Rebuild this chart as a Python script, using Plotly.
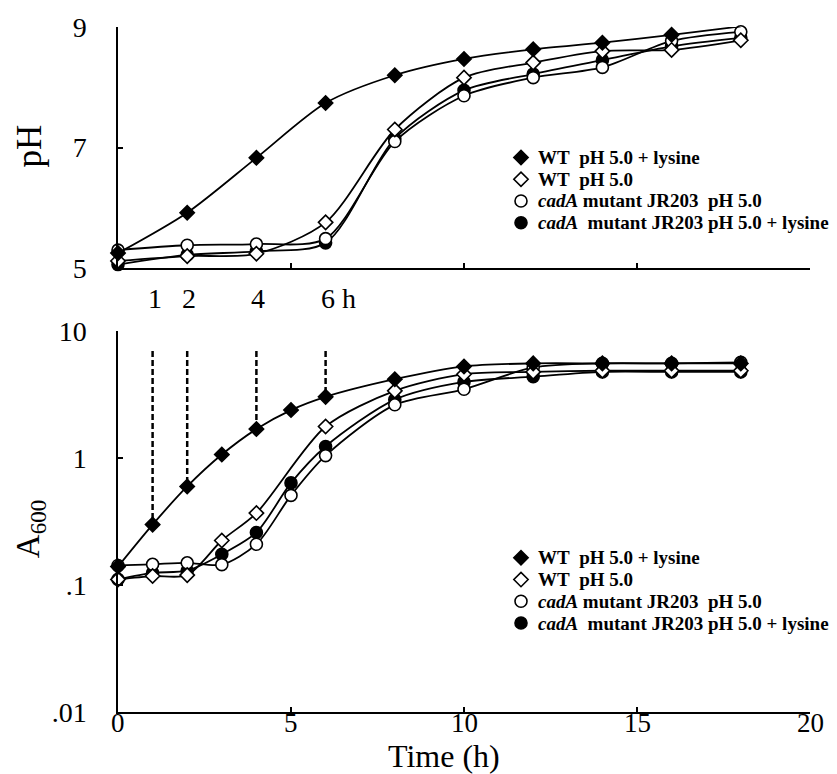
import plotly.graph_objects as go

# ---------------- data ----------------
series_names = [
    "WT\u00a0\u00a0pH 5.0 + lysine",
    "WT\u00a0\u00a0pH 5.0",
    "<i>cadA</i> mutant JR203\u00a0\u00a0pH 5.0",
    "<i>cadA</i>\u00a0\u00a0mutant JR203 pH 5.0 + lysine",
]

# top panel: pH
t_ph = [0, 2, 4, 6, 8, 10, 12, 14, 16, 18]
ph_wt_lys = [5.25, 5.92, 6.83, 7.74, 8.2, 8.47, 8.63, 8.74, 8.87, 9.01]
ph_wt = [5.12, 5.2, 5.24, 5.76, 7.3, 8.16, 8.41, 8.6, 8.62, 8.78]
ph_cad = [5.3, 5.38, 5.4, 5.49, 7.1, 7.86, 8.16, 8.33, 8.77, 8.92]
ph_cad_lys = [5.06, 5.22, 5.28, 5.42, 7.15, 7.95, 8.22, 8.45, 8.68, 8.82]

# bottom panel: A600
t_a = [0, 1, 2, 3, 4, 5, 6, 8, 10, 12, 14, 16, 18]
t_a_wt = [0, 1, 2, 3, 4, 6, 8, 10, 12, 14, 16, 18]
a_wt_lys = [0.14, 0.3, 0.6, 1.07, 1.7, 2.4, 3.05, 4.2, 5.3, 5.6, 5.6, 5.6, 5.6]
a_wt = [0.111, 0.118, 0.12, 0.225, 0.37, 1.78, 3.4, 4.6, 4.8, 4.9, 4.9, 4.9]
a_cad = [0.143, 0.146, 0.15, 0.145, 0.21, 0.51, 1.05, 2.64, 3.5, 5.2, 5.6, 5.6, 5.7]
a_cad_lys = [0.111, 0.125, 0.13, 0.175, 0.26, 0.64, 1.24, 2.9, 4.0, 4.4, 4.8, 4.8, 4.8]

# sampling marks (dashed lines)
sample_times = [1, 2, 4, 6]
sample_labels = ["1", "2", "4", "6 h"]
dash_top = 7.0

ph_ticks = [5, 7, 9]
a_tickvals = [0.01, 0.1, 1, 10]
a_ticktext = [".01", ".1", "1", "10"]
x_ticks = [0, 5, 10, 15, 20]

# ---------------- layout geometry ----------------
W, H = 837, 774
L, R, T, B = 118, 27, 19, 62
PW = W - L - R
PH = H - T - B


def pxx(p):
    return (p - L) / PW


def pyy(p):
    return (H - B - p) / PH


FONT = "Liberation Serif"
styles = [
    dict(symbol="diamond", color="black", size=11),
    dict(symbol="diamond", color="white", size=11),
    dict(symbol="circle", color="white", size=12),
    dict(symbol="circle", color="black", size=12),
]

fig = go.Figure()

top_series = [ph_wt_lys, ph_wt, ph_cad, ph_cad_lys]
bot_series = [(t_a, a_wt_lys), (t_a_wt, a_wt), (t_a, a_cad), (t_a, a_cad_lys)]
draw_order = [3, 2, 1, 0]

# dashed sampling lines (under the markers)
for tt in sample_times:
    yv = a_wt_lys[t_a.index(tt)]
    fig.add_trace(go.Scatter(
        x=[tt, tt], y=[dash_top, yv], mode="lines", xaxis="x2", yaxis="y2",
        line=dict(color="black", width=2.5, dash="6px,3px"),
        showlegend=False, hoverinfo="skip"))

for i in draw_order:
    st = styles[i]
    fig.add_trace(go.Scatter(
        x=t_ph, y=top_series[i], mode="lines+markers", xaxis="x", yaxis="y",
        line=dict(color="black", width=1.8, shape="spline", smoothing=0.8),
        marker=dict(symbol=st["symbol"], size=st["size"], color=st["color"],
                    line=dict(color="black", width=1.6)),
        cliponaxis=False, showlegend=False, name=series_names[i]))
for i in draw_order:
    st = styles[i]
    tx, ty = bot_series[i]
    fig.add_trace(go.Scatter(
        x=tx, y=ty, mode="lines+markers", xaxis="x2", yaxis="y2",
        line=dict(color="black", width=1.8, shape="spline", smoothing=0.8),
        marker=dict(symbol=st["symbol"], size=st["size"], color=st["color"],
                    line=dict(color="black", width=1.6)),
        cliponaxis=False, showlegend=False, name=series_names[i]))

# manual legends (marker keys on an invisible full-area overlay axis)
legend_rows_top = [151, 173, 195, 217]
legend_rows_bot = [556, 578, 600, 622]
key_x = 521
text_x = 536
annotations = []
for rows in (legend_rows_top, legend_rows_bot):
    for i, r in enumerate(rows):
        st = styles[i]
        fig.add_trace(go.Scatter(
            x=[pxx(key_x)], y=[pyy(r)], mode="markers", xaxis="x3", yaxis="y3",
            marker=dict(symbol=st["symbol"], size=st["size"], color=st["color"],
                        line=dict(color="black", width=1.6)),
            cliponaxis=False, showlegend=False, hoverinfo="skip"))
        annotations.append(dict(
            x=pxx(text_x), y=pyy(r), xref="paper", yref="paper", xanchor="left",
            yanchor="middle", text="<b>" + series_names[i] + "</b>", showarrow=False,
            font=dict(family=FONT, size=19, color="black")))

# sampling labels
for tt, lab in zip(sample_times, sample_labels):
    annotations.append(dict(
        x=tt, y=pyy(294), xref="x2", yref="paper", xanchor="left", xshift=-7,
        yanchor="middle", text=lab, showarrow=False,
        font=dict(family=FONT, size=28, color="black")))

# x tick labels of the lower panel, set close under the axis
for v in x_ticks:
    annotations.append(dict(
        x=v, y=pyy(723), xref="x2", yref="paper", xanchor="center",
        yanchor="middle", text=str(v), showarrow=False,
        font=dict(family=FONT, size=27, color="black")))

# axis titles
annotations.append(dict(x=pxx(30), y=pyy(140), xref="paper", yref="paper",
                        xanchor="center", yanchor="middle",
                        text="pH", textangle=-90, showarrow=False,
                        font=dict(family=FONT, size=35, color="black")))
annotations.append(dict(x=pxx(30), y=pyy(527), xref="paper", yref="paper",
                        xanchor="center", yanchor="middle",
                        text="A<sub>600</sub>", textangle=-90, showarrow=False,
                        font=dict(family=FONT, size=33, color="black")))
annotations.append(dict(x=pxx(444), y=pyy(757), xref="paper", yref="paper",
                        xanchor="center", yanchor="middle",
                        text="Time (h)", showarrow=False,
                        font=dict(family=FONT, size=32, color="black")))

axis_common = dict(showline=True, linecolor="black", linewidth=1.5, ticks="inside",
                   tickcolor="black", tickwidth=1.5, ticklen=5, showgrid=False,
                   zeroline=False, tickfont=dict(family=FONT, size=28, color="black"))

fig.update_layout(
    width=W, height=H,
    margin=dict(l=L, r=R, t=T, b=B),
    paper_bgcolor="white", plot_bgcolor="rgba(0,0,0,0)",
    showlegend=False,
    font=dict(family=FONT, color="black"),
    xaxis=dict(domain=[0, 1], range=[0, 20], anchor="y", tickvals=x_ticks,
               showticklabels=False, **axis_common),
    yaxis=dict(domain=[pyy(263), 1], range=[5, 9], anchor="x", tickvals=ph_ticks,
               ticklabelstandoff=24, **axis_common),
    xaxis2=dict(domain=[0, 1], range=[0, 20], anchor="y2", tickvals=x_ticks,
                showticklabels=False, **axis_common),
    yaxis2=dict(domain=[0, pyy(327)], type="log", range=[-2, 1], anchor="x2",
                tickvals=a_tickvals, ticktext=a_ticktext, ticklabelstandoff=24,
                **axis_common),
    xaxis3=dict(domain=[0, 1], range=[0, 1], anchor="y3", visible=False),
    yaxis3=dict(domain=[0, 1], range=[0, 1], anchor="x3", visible=False),
    annotations=annotations,
)

fig.write_html("out.html")
